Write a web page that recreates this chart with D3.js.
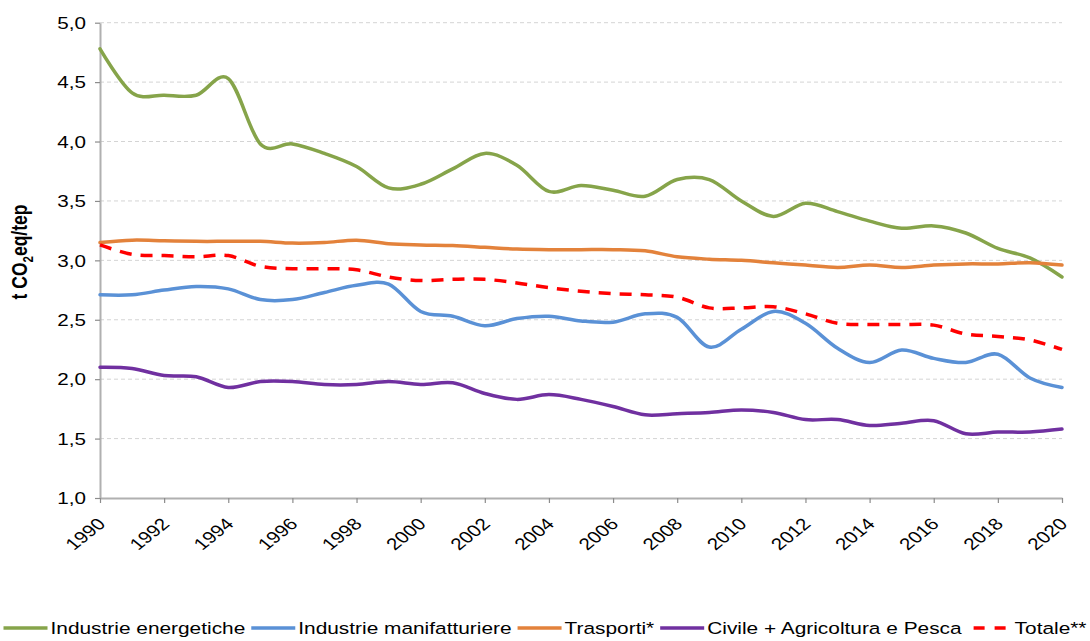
<!DOCTYPE html>
<html>
<head>
<meta charset="utf-8">
<script src="https://cdn.jsdelivr.net/npm/d3@7"></script>
<style>
  body { margin: 0; background: #fff; }
  svg { display: block; font-family: "Liberation Sans", Arial, sans-serif; }
</style>
</head>
<body>
<svg id="chart" width="1090" height="641"></svg>
<script>
// Emission intensity by sector, t CO2eq per tep, 1990-2020
const years = [1990, 1991, 1992, 1993, 1994, 1995, 1996, 1997, 1998, 1999, 2000,
               2001, 2002, 2003, 2004, 2005, 2006, 2007, 2008, 2009, 2010,
               2011, 2012, 2013, 2014, 2015, 2016, 2017, 2018, 2019, 2020];

const energetiche = [4.78, 4.41, 4.39, 4.39, 4.53, 3.98, 3.98, 3.90, 3.79, 3.61, 3.64,
                     3.77, 3.90, 3.80, 3.58, 3.63, 3.59, 3.54, 3.68, 3.68, 3.50,
                     3.37, 3.48, 3.41, 3.33, 3.27, 3.29, 3.23, 3.10, 3.02, 2.86];

const manifatturiere = [2.71, 2.71, 2.75, 2.78, 2.76, 2.67, 2.67, 2.73, 2.79, 2.80, 2.57,
                        2.53, 2.45, 2.51, 2.53, 2.49, 2.48, 2.55, 2.52, 2.27, 2.42,
                        2.57, 2.47, 2.26, 2.14, 2.245, 2.175, 2.14, 2.21, 2.01, 1.93];

const trasporti = [3.15, 3.17, 3.165, 3.16, 3.16, 3.16, 3.145, 3.15, 3.17, 3.14, 3.13,
                   3.125, 3.11, 3.095, 3.09, 3.09, 3.09, 3.08, 3.03, 3.01, 3.00,
                   2.98, 2.96, 2.94, 2.96, 2.94, 2.96, 2.97, 2.97, 2.98, 2.96];

const civile = [2.10, 2.09, 2.03, 2.02, 1.93, 1.98, 1.98, 1.955, 1.955, 1.98, 1.955,
                1.97, 1.88, 1.83, 1.87, 1.83, 1.77, 1.70, 1.71, 1.72, 1.74,
                1.72, 1.66, 1.66, 1.61, 1.63, 1.65, 1.54, 1.555, 1.555, 1.58];

const totale = [3.13, 3.05, 3.04, 3.03, 3.04, 2.95, 2.93, 2.93, 2.92, 2.86, 2.83,
                2.84, 2.84, 2.81, 2.77, 2.74, 2.72, 2.71, 2.69, 2.60, 2.60,
                2.61, 2.55, 2.47, 2.46, 2.46, 2.455, 2.38, 2.36, 2.33, 2.25];

const seriesNames = ["Industrie energetiche", "Industrie manifatturiere", "Trasporti*",
                     "Civile + Agricoltura e Pesca", "Totale**"];
const seriesColors = ["#86A44A", "#5A91D6", "#E3823B", "#7030A0", "#FF0000"];

const yTicks = [1.0, 1.5, 2.0, 2.5, 3.0, 3.5, 4.0, 4.5, 5.0];
const xTickYears = [1990, 1992, 1994, 1996, 1998, 2000, 2002, 2004, 2006, 2008,
                    2010, 2012, 2014, 2016, 2018, 2020];

const series = [energetiche, manifatturiere, trasporti, civile, totale].map((vals, i) => ({
  name: seriesNames[i],
  color: seriesColors[i],
  dashed: i === 4,
  points: years.map((yr, j) => ({ year: yr, value: vals[j] }))
}));

const svg = d3.select("#chart");
const stretch = 1.25; // wide lettering used throughout the chart

const x = d3.scaleLinear().domain([1990, 2020]).range([100, 1062]);
const y = d3.scaleLinear().domain([1, 5]).range([498, 22.7]);

// Horizontal dashed gridlines
svg.append("g")
  .selectAll("line")
  .data(yTicks.filter(t => t > 1))
  .join("line")
  .attr("x1", x(1990)).attr("x2", x(2020))
  .attr("y1", d => y(d)).attr("y2", d => y(d))
  .attr("stroke", "#D4D4D4")
  .attr("stroke-width", 1)
  .attr("stroke-dasharray", "4,3");

// Y axis
const yAxis = svg.append("g")
  .attr("transform", `translate(${x(1990)},0)`)
  .call(d3.axisLeft(y).tickValues(yTicks).tickSize(5).tickSizeOuter(0)
    .tickFormat(d => d.toFixed(1).replace(".", ",")));
yAxis.select(".domain").attr("stroke", "#B0B0B0").attr("stroke-width", 2);
yAxis.selectAll(".tick line").attr("stroke", "#8C8C8C").attr("stroke-width", 1.2);
yAxis.selectAll(".tick text")
  .attr("x", 0).attr("dy", "0.35em")
  .attr("transform", `translate(-14,0) scale(${stretch},1)`)
  .attr("font-size", 16.5).attr("fill", "#000")
  .attr("font-family", "'Liberation Sans', Arial, sans-serif");

// X axis
const xAxis = svg.append("g")
  .attr("transform", `translate(0,${y(1)})`)
  .call(d3.axisBottom(x).tickValues(xTickYears).tickSize(5).tickSizeOuter(0)
    .tickFormat(d => String(d)));
xAxis.select(".domain").attr("stroke", "#B0B0B0").attr("stroke-width", 2);
xAxis.selectAll(".tick line").attr("stroke", "#8C8C8C").attr("stroke-width", 1.2);
xAxis.selectAll(".tick text")
  .attr("x", 0).attr("y", 0).attr("dy", 0)
  .attr("text-anchor", "end")
  .attr("transform", `translate(6,27) scale(${stretch},1) rotate(-45)`)
  .attr("font-size", 16.5).attr("fill", "#000")
  .attr("font-family", "'Liberation Sans', Arial, sans-serif");

// Y axis title with subscript
const title = svg.append("text")
  .attr("transform", `translate(27,252) scale(${stretch},1) rotate(-90)`)
  .attr("text-anchor", "middle")
  .attr("font-size", 17.5)
  .attr("font-weight", "bold")
  .attr("fill", "#000");
title.append("tspan").text("t CO");
title.append("tspan").attr("font-size", 11.5).attr("dy", 4.5).text("2");
title.append("tspan").attr("dy", -4.5).text("eq/tep");

// Smoothed series lines
const line = d3.line()
  .x(d => x(d.year))
  .y(d => y(d.value))
  .curve(d3.curveCardinal.tension(0));

svg.append("g")
  .selectAll("path")
  .data(series)
  .join("path")
  .attr("d", d => line(d.points))
  .attr("fill", "none")
  .attr("stroke", d => d.color)
  .attr("stroke-width", 3.5)
  .attr("stroke-linejoin", "round")
  .attr("stroke-linecap", d => d.dashed ? "butt" : "round")
  .attr("stroke-dasharray", d => d.dashed ? "12,9" : null);

// Legend along the bottom, centred
const legend = svg.append("g").attr("transform", "translate(0,628)");
const sampleLen = 44, sampleGap = 3, itemGap = 6, legendFont = 16.5, legendStretch = 1.265;
const items = legend.selectAll("g").data(series).join("g");
items.append("line")
  .attr("x1", 0).attr("x2", sampleLen)
  .attr("y1", 0).attr("y2", 0)
  .attr("stroke", d => d.color)
  .attr("stroke-width", 3.5)
  .attr("stroke-dasharray", d => d.dashed ? "11,10" : null)
  .attr("stroke-dashoffset", d => d.dashed ? -6 : null);
items.append("text")
  .attr("transform", `translate(${sampleLen + sampleGap},0) scale(${legendStretch},1)`)
  .attr("dy", "0.35em")
  .attr("font-size", legendFont)
  .attr("fill", "#000")
  .text(d => d.name);

const widths = [];
items.each(function () {
  const t = d3.select(this).select("text").node();
  widths.push(sampleLen + sampleGap + t.getComputedTextLength() * legendStretch);
});
const total = d3.sum(widths) + itemGap * (widths.length - 1);
let cursor = 545 - total / 2;
items.attr("transform", (d, i) => {
  const tx = cursor;
  cursor += widths[i] + itemGap;
  return `translate(${tx},0)`;
});
</script>
</body>
</html>
